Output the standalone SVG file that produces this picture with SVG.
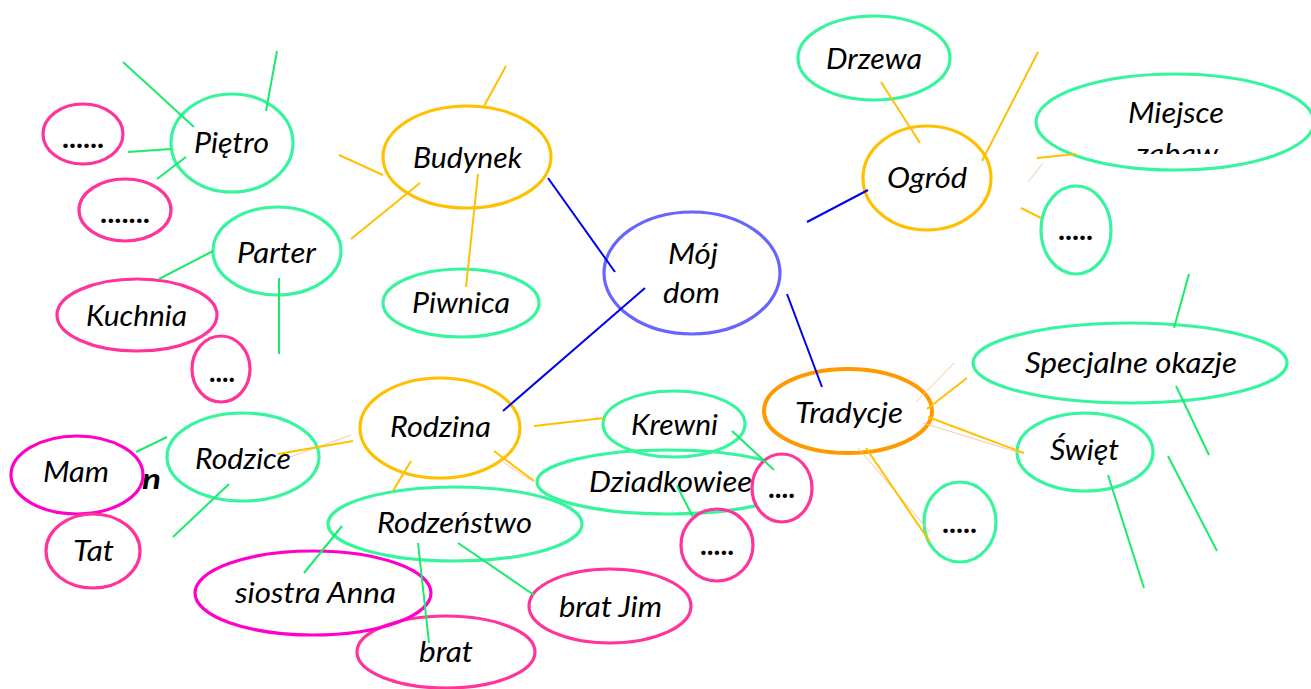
<svg xmlns="http://www.w3.org/2000/svg" width="1311" height="689" viewBox="0 0 1311 689">
<style>
  .n { fill: none; stroke-width: 3.2; }
  .g { stroke: #36f59c; }
  .p { stroke: #ff3399; }
  .m { stroke: #ff00cc; }
  .y { stroke: #ffc000; }
  .o { stroke: #ff9900; stroke-width: 4; }
  .b { stroke: #6666ff; }
  .t { font-family: Lato, "Liberation Sans", sans-serif; font-style: italic; font-size: 28.5px; fill: #000; }
  .d { font-family: Lato, "Liberation Sans", sans-serif; font-size: 28px; font-weight: bold; fill: #000; }
  .cg line { stroke: #1aeb6b; stroke-width: 2; }
  .cy line { stroke: #ffc000; stroke-width: 2; }
  .cp line { stroke: #f8c8a0; stroke-width: 1; }
  .cb line { stroke: #0000ee; stroke-width: 2; }
</style>
<defs>
  <clipPath id="clipMiejsce"><rect x="1030" y="60" width="281" height="94"/></clipPath>
</defs>
<rect width="1311" height="689" fill="#fff"/>
<g id="nodes">
  <g id="pietro"><ellipse class="n g" cx="232" cy="143" rx="61" ry="49"/><text class="t" x="194" y="153" textLength="75" lengthAdjust="spacingAndGlyphs">Piętro</text></g>
  <g id="dots6"><ellipse class="n p" cx="83" cy="134" rx="40" ry="30"/><text class="d" x="62" y="148" textLength="42" lengthAdjust="spacingAndGlyphs">......</text></g>
  <g id="dots7"><ellipse class="n p" cx="125" cy="210" rx="46" ry="31"/><text class="d" x="100" y="223" textLength="50" lengthAdjust="spacingAndGlyphs">.......</text></g>
  <g id="parter"><ellipse class="n g" cx="277" cy="251" rx="64" ry="44"/><text class="t" x="237" y="263" textLength="79" lengthAdjust="spacingAndGlyphs">Parter</text></g>
  <g id="kuchnia"><ellipse class="n p" cx="137" cy="315" rx="80" ry="36"/><text class="t" x="86" y="326" textLength="101" lengthAdjust="spacingAndGlyphs">Kuchnia</text></g>
  <g id="dots4a"><ellipse class="n p" cx="221" cy="369" rx="29" ry="33"/><text class="d" x="209" y="382" textLength="26" lengthAdjust="spacingAndGlyphs">....</text></g>
  <g id="budynek"><ellipse class="n y" cx="467" cy="157" rx="84" ry="51"/><text class="t" x="413" y="168" textLength="109" lengthAdjust="spacingAndGlyphs">Budynek</text></g>
  <g id="piwnica"><ellipse class="n g" cx="461" cy="303" rx="78" ry="34"/><text class="t" x="412" y="313" textLength="98" lengthAdjust="spacingAndGlyphs">Piwnica</text></g>
  <g id="mojdom"><ellipse class="n b" cx="692" cy="273" rx="88" ry="61"/><text class="t" x="668" y="264" textLength="50" lengthAdjust="spacingAndGlyphs">Mój</text><text class="t" x="663" y="303" textLength="57" lengthAdjust="spacingAndGlyphs">dom</text></g>
  <g id="drzewa"><ellipse class="n g" cx="874" cy="58" rx="76" ry="42"/><text class="t" x="826" y="69" textLength="96" lengthAdjust="spacingAndGlyphs">Drzewa</text></g>
  <g id="ogrod"><ellipse class="n y" cx="927" cy="178" rx="64" ry="52"/><text class="t" x="887" y="188" textLength="80" lengthAdjust="spacingAndGlyphs">Ogród</text></g>
  <g id="miejsce"><ellipse class="n g" cx="1175" cy="122" rx="139" ry="48"/><text class="t" x="1128" y="123" textLength="96" lengthAdjust="spacingAndGlyphs">Miejsce</text><text class="t" x="1136" y="164" textLength="82" lengthAdjust="spacingAndGlyphs" clip-path="url(#clipMiejsce)">zabaw</text></g>
  <g id="dots5a"><ellipse class="n g" cx="1076" cy="230" rx="35" ry="44"/><text class="d" x="1058" y="240" textLength="35" lengthAdjust="spacingAndGlyphs">.....</text></g>
  <g id="specjalne"><ellipse class="n g" cx="1130" cy="363" rx="157" ry="40"/><text class="t" x="1025" y="373" textLength="212" lengthAdjust="spacingAndGlyphs">Specjalne okazje</text></g>
  <g id="tradycje"><ellipse class="n o" cx="848" cy="411" rx="84" ry="42"/><text class="t" x="795" y="423" textLength="108" lengthAdjust="spacingAndGlyphs">Tradycje</text></g>
  <g id="swiet"><ellipse class="n g" cx="1085" cy="452" rx="68" ry="39"/><text class="t" x="1050" y="460" textLength="69" lengthAdjust="spacingAndGlyphs">Święt</text></g>
  <g id="dots5b"><ellipse class="n g" cx="960" cy="522" rx="36" ry="40"/><text class="d" x="942" y="533" textLength="35" lengthAdjust="spacingAndGlyphs">.....</text></g>
  <g id="rodzina"><ellipse class="n y" cx="440" cy="428" rx="80" ry="50"/><text class="t" x="390" y="437" textLength="101" lengthAdjust="spacingAndGlyphs">Rodzina</text></g>
  <g id="krewni"><ellipse class="n g" cx="674" cy="424" rx="71" ry="33"/><text class="t" x="631" y="435" textLength="87" lengthAdjust="spacingAndGlyphs">Krewni</text></g>
  <g id="dziadkowiee"><ellipse class="n g" cx="668" cy="482" rx="131" ry="32"/><text class="t" x="589" y="492" textLength="163" lengthAdjust="spacingAndGlyphs">Dziadkowiee</text></g>
  <g id="dots4b"><ellipse class="p" fill="#fff" stroke-width="3.2" cx="782" cy="488" rx="30" ry="34"/><text class="d" x="768" y="498" textLength="27" lengthAdjust="spacingAndGlyphs">....</text></g>
  <g id="dots5c"><ellipse class="n p" cx="717" cy="545" rx="36" ry="36"/><text class="d" x="700" y="555" textLength="34" lengthAdjust="spacingAndGlyphs">.....</text></g>
  <g id="rodzenstwo"><ellipse class="n g" cx="455" cy="524" rx="127" ry="37"/><text class="t" x="377" y="533" textLength="155" lengthAdjust="spacingAndGlyphs">Rodzeństwo</text></g>
  <g id="bratjim"><ellipse class="n p" cx="610" cy="606" rx="81" ry="37"/><text class="t" x="559" y="617" textLength="103" lengthAdjust="spacingAndGlyphs">brat Jim</text></g>
  <g id="brat"><ellipse class="n p" cx="446" cy="652" rx="89" ry="36"/><text class="t" x="419" y="662" textLength="54" lengthAdjust="spacingAndGlyphs">brat</text></g>
  <g id="siostra"><ellipse class="n m" cx="313" cy="593" rx="118" ry="42"/><text class="t" x="235" y="603" textLength="161" lengthAdjust="spacingAndGlyphs">siostra Anna</text></g>
  <g id="rodzice"><ellipse class="n g" cx="243" cy="457" rx="76" ry="44"/><text class="t" x="195" y="469" textLength="96" lengthAdjust="spacingAndGlyphs">Rodzice</text></g>
  <g id="mam"><text class="t" x="142" y="489" font-weight="bold" font-size="34px" textLength="19" lengthAdjust="spacingAndGlyphs">n</text><ellipse class="m" fill="#fff" stroke-width="3.2" cx="77" cy="475" rx="66" ry="39"/><text class="t" x="43" y="482" textLength="66" lengthAdjust="spacingAndGlyphs">Mam</text></g>
  <g id="tat"><ellipse class="n p" cx="93" cy="551" rx="47" ry="37"/><text class="t" x="73" y="561" textLength="41" lengthAdjust="spacingAndGlyphs">Tat</text></g>
</g>
<g id="connectors">
  <g class="cg">
    <line x1="123" y1="62" x2="194" y2="127"/>
    <line x1="277" y1="51" x2="266" y2="111"/>
    <line x1="128" y1="152" x2="171" y2="149"/>
    <line x1="157" y1="179" x2="186" y2="157"/>
    <line x1="159" y1="279" x2="213" y2="251"/>
    <line x1="279" y1="278" x2="279" y2="354"/>
    <line x1="136" y1="452" x2="167" y2="437"/>
    <line x1="229" y1="484" x2="173" y2="537"/>
    <line x1="342" y1="526" x2="304" y2="573"/>
    <line x1="418" y1="543" x2="429" y2="643"/>
    <line x1="458" y1="543" x2="534" y2="595"/>
    <line x1="732" y1="431" x2="774" y2="470"/>
    <line x1="677" y1="486" x2="693" y2="517"/>
    <line x1="1189" y1="274" x2="1174" y2="328"/>
    <line x1="1176" y1="386" x2="1209" y2="455"/>
    <line x1="1168" y1="456" x2="1217" y2="551"/>
    <line x1="1108" y1="475" x2="1144" y2="588"/>
  </g>
  <g class="cp">
    <line x1="1043" y1="163" x2="1028" y2="182"/>
    <line x1="290" y1="457" x2="351" y2="435"/>
    <line x1="503" y1="462" x2="530" y2="480"/>
    <line x1="954" y1="363" x2="916" y2="402"/>
    <line x1="923" y1="423" x2="1020" y2="453"/>
    <line x1="858" y1="448" x2="930" y2="532"/>
  </g>
  <g class="cy">
    <line x1="506" y1="66" x2="484" y2="106"/>
    <line x1="339" y1="155" x2="383" y2="175"/>
    <line x1="420" y1="183" x2="351" y2="239"/>
    <line x1="478" y1="174" x2="466" y2="287"/>
    <line x1="881" y1="82" x2="920" y2="143"/>
    <line x1="1038" y1="52" x2="982" y2="161"/>
    <line x1="1037" y1="158" x2="1076" y2="154"/>
    <line x1="1021" y1="208" x2="1041" y2="218"/>
    <line x1="278" y1="454" x2="353" y2="441"/>
    <line x1="411" y1="461" x2="393" y2="491"/>
    <line x1="534" y1="426" x2="604" y2="418"/>
    <line x1="494" y1="451" x2="534" y2="481"/>
    <line x1="967" y1="378" x2="927" y2="409"/>
    <line x1="928" y1="417" x2="1024" y2="453"/>
    <line x1="866" y1="448" x2="930" y2="542"/>
  </g>
  <g class="cb">
    <line x1="548" y1="178" x2="615" y2="272"/>
    <line x1="645" y1="288" x2="503" y2="411"/>
    <line x1="787" y1="294" x2="822" y2="387"/>
    <line x1="807" y1="222" x2="868" y2="190"/>
  </g>
</g>
</svg>
